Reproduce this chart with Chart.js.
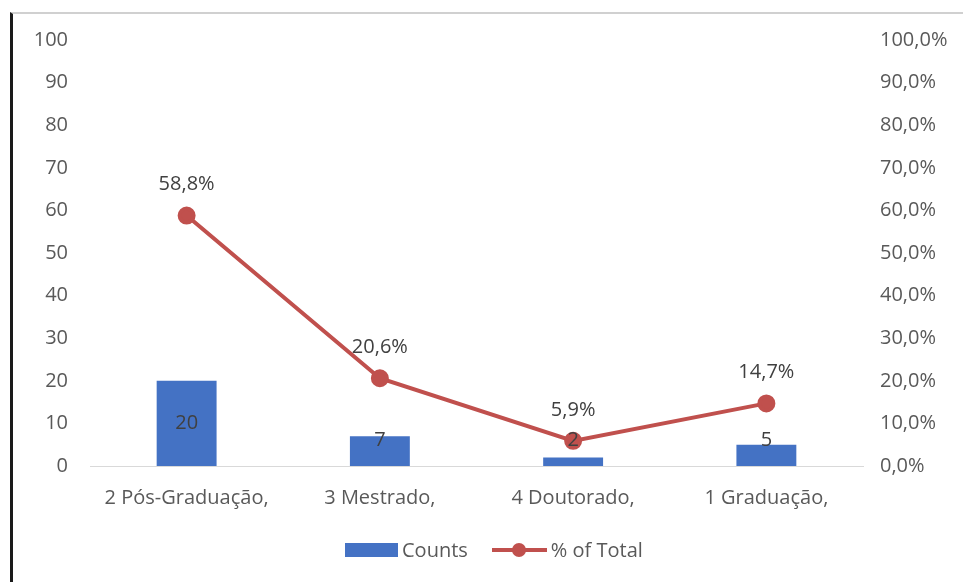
<!DOCTYPE html>
<html>
<head>
  <title>Counts e % of Total</title>
  <script src="https://cdn.jsdelivr.net/npm/chart.js"></script>
  <style>
    body {
      margin: 0;
      background: #ffffff;
      font-family: "Open Sans", Arial, sans-serif;
    }
    .frame {
      position: absolute;
      left: 10px;
      top: 12px;
      width: 953px;
      height: 570px;
      border-left: 3px solid #1a1a1a;
      border-top: 2px solid #d0d0d0;
      box-sizing: border-box;
    }
    canvas {
      position: absolute;
      left: 0;
      top: 0;
    }
    .legend {
      position: absolute;
      top: 536px;
      left: 345px;
      display: flex;
      align-items: center;
      font-size: 20px;
      color: #595959;
    }
    .legend .box {
      width: 53px;
      height: 14px;
      background: #4472c4;
      margin-right: 4px;
    }
    .legend .line {
      position: relative;
      width: 55px;
      height: 4px;
      background: #c0504d;
      margin-left: 24px;
      margin-right: 4px;
    }
    .legend .line::after {
      content: "";
      position: absolute;
      left: 20px;
      top: -5px;
      width: 14px;
      height: 14px;
      border-radius: 50%;
      background: #c0504d;
    }
  </style>
</head>
<body>
  <div class="frame"></div>
  <canvas id="chart" width="963" height="582"></canvas>
  <div class="legend">
    <span class="box"></span><span>Counts</span>
    <span class="line"></span><span>% of Total</span>
  </div>

  <script>
    const categories = ["2 Pós-Graduação,", "3 Mestrado,", "4 Doutorado,", "1 Graduação,"];
    const counts = [20, 7, 2, 5];
    const percents = [58.8, 20.6, 5.9, 14.7];
    const leftTicks = [0, 10, 20, 30, 40, 50, 60, 70, 80, 90, 100];

    const textColor = "#595959";
    const font = { family: "'Open Sans', Arial, sans-serif", size: 20 };

    // value labels: counts in the bars, percents above the points
    const labelPlugin = {
      id: "labels",
      afterDatasetsDraw(chart) {
        const ctx = chart.ctx;
        const yL = chart.scales.y;
        ctx.save();
        ctx.font = "20px 'Open Sans', Arial, sans-serif";
        ctx.fillStyle = "#404040";
        ctx.textAlign = "center";
        ctx.textBaseline = "middle";

        chart.getDatasetMeta(0).data.forEach((bar, i) => {
          const mid = (bar.y + bar.base) / 2;
          const y = Math.min(mid, yL.getPixelForValue(6));
          ctx.fillText(String(counts[i]), bar.x, y);
        });

        chart.getDatasetMeta(1).data.forEach((pt, i) => {
          ctx.fillText(percents[i].toFixed(1).replace(".", ",") + "%", pt.x, pt.y - 31);
        });
        ctx.restore();
      }
    };

    new Chart(document.getElementById("chart"), {
      data: {
        labels: categories,
        datasets: [
          {
            type: "bar",
            label: "Counts",
            data: counts,
            backgroundColor: "#4472c4",
            yAxisID: "y",
            categoryPercentage: 1,
            barPercentage: 0.31,
            order: 2
          },
          {
            type: "line",
            label: "% of Total",
            data: percents,
            borderColor: "#c0504d",
            backgroundColor: "#c0504d",
            borderWidth: 4,
            pointRadius: 7,
            pointHoverRadius: 7,
            tension: 0,
            yAxisID: "y1",
            order: 1
          }
        ]
      },
      options: {
        responsive: false,
        animation: false,
        layout: { padding: { top: 40, left: 0, right: 0, bottom: 0 } },
        plugins: {
          legend: { display: false },
          tooltip: { enabled: false }
        },
        scales: {
          x: {
            grid: { display: false },
            border: { color: "#d9d9d9", width: 1 },
            ticks: { color: textColor, font: font, padding: 12, maxRotation: 0 },
            afterFit(scale) { scale.height = 116; }
          },
          y: {
            position: "left",
            min: 0,
            max: 100,
            afterBuildTicks(scale) { scale.ticks = leftTicks.map(v => ({ value: v })); },
            grid: { display: false },
            border: { display: false },
            ticks: { color: textColor, font: font, padding: 14 },
            afterFit(scale) { scale.width = 90; }
          },
          y1: {
            position: "right",
            min: 0,
            max: 100,
            afterBuildTicks(scale) { scale.ticks = leftTicks.map(v => ({ value: v })); },
            grid: { display: false },
            border: { display: false },
            ticks: {
              color: textColor,
              font: font,
              padding: 9,
              callback: v => v.toFixed(1).replace(".", ",") + "%"
            },
            afterFit(scale) { scale.width = 100; }
          }
        }
      },
      plugins: [labelPlugin]
    });
  </script>
</body>
</html>
